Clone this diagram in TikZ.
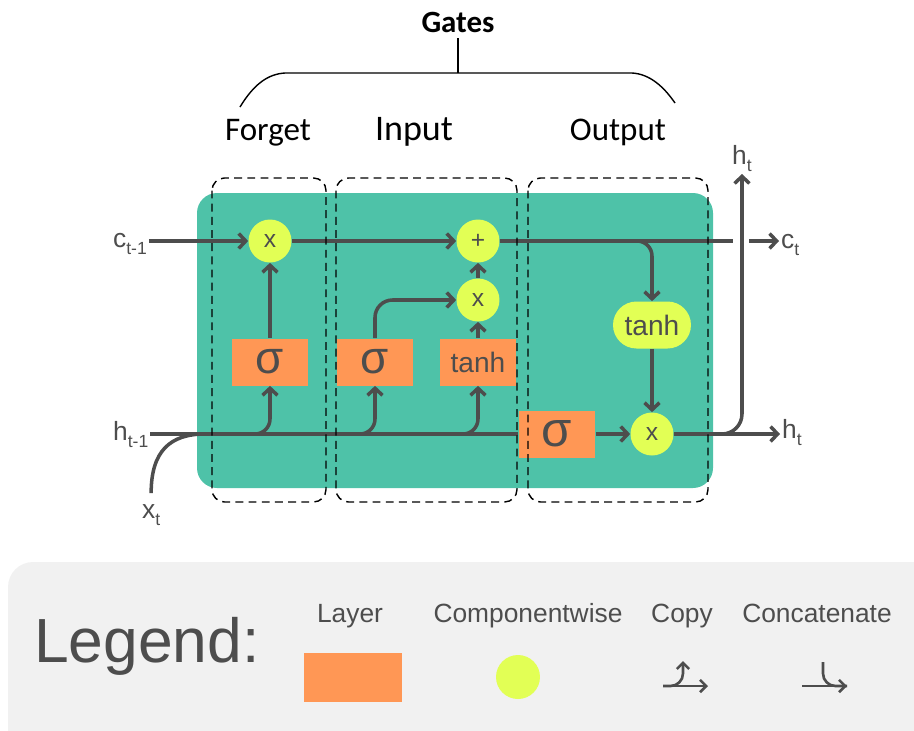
\documentclass[tikz,border=0pt]{standalone}
\usepackage{fontspec}
\setmainfont{Liberation Sans}
\newfontfamily\gatefont{Carlito}
\usepackage{tikz}
\usetikzlibrary{arrows.meta,positioning,calc}

\definecolor{cellbg}{RGB}{78,194,168}
\definecolor{layerc}{RGB}{255,151,85}
\definecolor{pwc}{RGB}{226,255,85}
\definecolor{wire}{RGB}{77,77,77}
\definecolor{legendbg}{RGB}{241,241,241}
\newcommand{\lowsub}[1]{\raisebox{-4pt}{\fontsize{10}{12}\selectfont #1}}

\begin{document}
\begin{tikzpicture}[x=0.02cm, y=-0.02cm,
  wireline/.style={draw=wire, line width=2pt},
  arr/.style={wireline, -{Straight Barb[length=4pt,width=8.5pt]}},
  layer/.style={fill=layerc, minimum width=1.54cm, minimum height=0.94cm, inner sep=0pt, text=wire, font=\fontsize{26}{30}\selectfont},
  pw/.style={circle, fill=pwc, minimum size=0.86cm, inner sep=0pt, text=wire, font=\fontsize{14}{16}\selectfont},
  pwtanh/.style={fill=pwc, rounded corners=0.47cm, minimum width=1.56cm, minimum height=0.94cm, inner sep=0pt, text=wire, font=\fontsize{16}{18}\selectfont},
  gatebox/.style={draw=black, line width=0.8pt, dash pattern=on 4.5pt off 3pt, rounded corners=0.25cm},
  lbl/.style={text=wire, inner sep=1pt, font=\fontsize{15}{18}\selectfont},
  gatelbl/.style={anchor=base, font=\gatefont\fontsize{18.8}{22}\selectfont},
  brace/.style={draw=black, line width=0.8pt},
  legtext/.style={anchor=base, text=wire, font=\fontsize{15}{18}\selectfont},
  legline/.style={draw=wire, line width=1.5pt},
  legarr/.style={legline, -{Straight Barb[length=3.5pt,width=7pt]}}
]
\useasboundingbox (0,0) rectangle (914,731);

% cell
\fill[cellbg, rounded corners=0.4cm] (197,193) rectangle (713,488);

% gate headings
\node[anchor=base, font=\gatefont\bfseries\fontsize{17.6}{20}\selectfont] (gates) at (458,32) {Gates};
\coordinate (bracetop) at (458,73);
\draw[brace] (gates.south) -- (bracetop);
\draw[brace] (240,107) .. controls (254,84) and (268,74) .. (285,73) -- (632,73) .. controls (650,74) and (664,87) .. (675,103);
\node[gatelbl] (forgetlbl) at (268,140) {Forget};
\node[gatelbl, font=\gatefont\fontsize{20.5}{24}\selectfont] (inputlbl) at (414,140) {Input};
\node[gatelbl] (outputlbl) at (618,140) {Output};

% operations
\node[pw] (fx) at (270,241) {x};
\node[pw] (pl) at (478,241) {+};
\node[pw] (ix) at (478,300) {x};
\node[pw] (ox) at (652,434) {x};
\node[layer] (fs) at (270,362) {σ};
\node[layer] (is) at (375,362) {σ};
\node[layer, font=\fontsize{16}{18}\selectfont] (it) at (478,362) {tanh};
\node[layer, font=\fontsize{28}{32}\selectfont] (os) at (557,434) {σ};
\node[pwtanh] (ot) at (652,325) {tanh};

% inputs and outputs
\node[lbl, anchor=base west] (cin) at (111,247) {c\lowsub{t-1}};
\node[lbl, anchor=base west] (hin) at (111,440) {h\lowsub{t-1}};
\node[lbl, anchor=base west] (xin) at (140,518) {x\lowsub{t}};
\node[lbl, anchor=south] (hup) at (742,174) {h\lowsub{t}};
\node[lbl, anchor=base west] (cout) at (779,248) {c\lowsub{t}};
\node[lbl, anchor=base west] (hout) at (780,438) {h\lowsub{t}};
\coordinate (cgap) at (733,241);
\coordinate (cgap2) at (749,241);
\coordinate (hjoin) at (205,434);

% cell state
\draw[arr] (cin.east |- fx) -- (fx.west);
\draw[arr] (fx.east) -- (pl.west);
\draw[wireline] (pl.east) -- (cgap);
\draw[arr, rounded corners=0.3cm] (pl.east) -| (ot.north);
\draw[arr] (cgap2) -- (cgap2 -| cout.west);

% hidden state and input
\draw[wireline] (hin.east |- os) -- (os.west);
\draw[wireline] ([yshift=5pt]xin.north) .. controls +(0,-42) and +(-35,0) .. (hjoin);
\foreach \g in {fs,is,it}
  \draw[arr, rounded corners=0.3cm] (hin.east |- os) -| (\g.south);
\draw[arr] (fs.north) -- (fx.south);
\draw[arr, rounded corners=0.35cm] (is.north) |- (ix.west);
\draw[arr] (it.north) -- (ix.south);
\draw[arr] (ix.north) -- (pl.south);
\draw[arr] (ot.south) -- (ox.north);
\draw[arr] (os.east) -- (ox.west);
\draw[arr] (ox.east) -- (ox -| hout.west);
\draw[arr, rounded corners=0.4cm] (ox.east) -| (hup.south);

% gate frames
\draw[gatebox] (212,178) rectangle (326,502);
\draw[gatebox] (336,178) rectangle (517,502);
\draw[gatebox] (528,178) rectangle (708,502);

% legend
\fill[legendbg, rounded corners=0.5cm] (8,562) rectangle (940,760);
\node[anchor=base, text=wire, font=\fontsize{35.5}{40}\selectfont] (legend) at (147,662) {Legend:};
\node[legtext] (lglayer) at (350,622) {Layer};
\node[legtext] (lgpw) at (528,622) {Componentwise};
\node[legtext] (lgcopy) at (682,622) {Copy};
\node[legtext] (lgcat) at (817,622) {Concatenate};
\node[fill=layerc, minimum width=1.96cm, minimum height=0.98cm, inner sep=0pt] (lgbox) at (353,677) {};
\node[pw, minimum size=0.88cm] (lgdot) at (518,677) {};
\coordinate (cpa) at (663,686);
\coordinate (cpb) at (708,686);
\coordinate (cpc) at (683,661);
\draw[legarr] (cpa) -- (cpb);
\draw[legarr, rounded corners=0.25cm] (cpa) -| (cpc);
\coordinate (cca) at (802,686);
\coordinate (ccb) at (847,686);
\coordinate (ccc) at (823,662);
\draw[legarr] (cca) -- (ccb);
\draw[legline, rounded corners=0.25cm] (ccc) |- (ccb);
\end{tikzpicture}
\end{document}
